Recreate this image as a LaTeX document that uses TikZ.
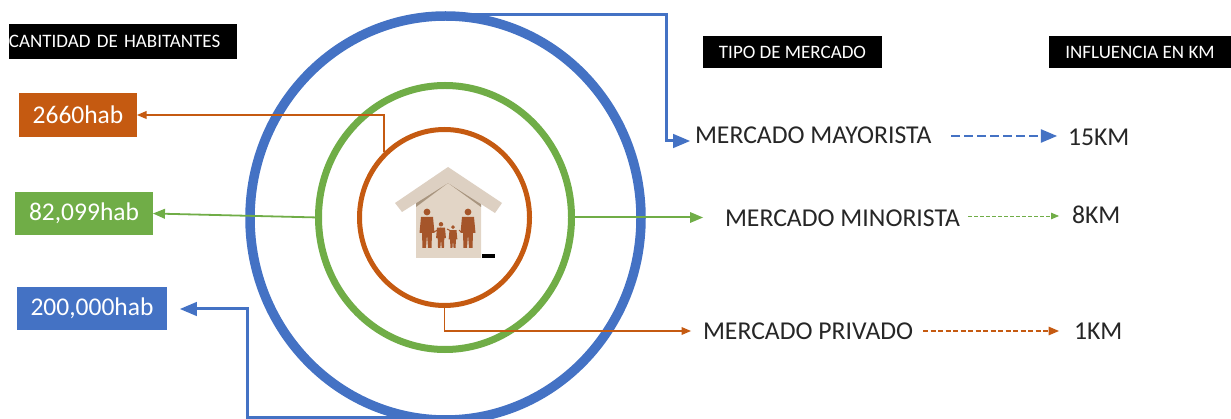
\documentclass[tikz,border=0pt]{standalone}
\usepackage{fontspec}
\setmainfont{Carlito}
\usetikzlibrary{arrows,shapes.geometric}
\definecolor{azul}{HTML}{4472C4}
\definecolor{verde}{HTML}{70AD47}
\definecolor{naranja}{HTML}{C55A11}
\definecolor{madera}{HTML}{E2D5C6}
\definecolor{techo}{HTML}{DDD0C2}
\definecolor{sombra}{HTML}{A8957F}
\definecolor{figura}{HTML}{A5552A}

\begin{document}
\begin{tikzpicture}[
x=1pt, y=-1pt,
    R/.style = {ellipse, draw=#1, outer sep=0pt, inner sep=0pt},% rings
    H/.style = {rectangle, fill=black, text=white, font=\fontsize{19}{19}\selectfont,
                inner sep=0pt, outer sep=0pt},% black headers
    B/.style = {rectangle, fill=#1, text=white, font=\fontsize{25.5}{25.5}\selectfont,
                inner sep=0pt, outer sep=0pt},% coloured boxes
    T/.style = {font=\fontsize{25.7}{25.7}\selectfont, text=black!85,
                inner sep=0pt, outer sep=0pt},% market and distance labels
    L/.style = {draw=#1, -triangle 45},% connectors
    D/.style = {draw=#1, -triangle 45},% dashed connectors
                        ]
\useasboundingbox (0,0) rectangle (1231,419);
% rings
\node[R=azul, line width=9.5pt, minimum width=391pt, minimum height=404pt] (ringB) at (445.5,218) {};
\node[R=verde, line width=7pt, minimum width=253pt, minimum height=264pt] (ringG) at (445,217.5) {};
\node[R=naranja, line width=5pt, minimum width=170pt, minimum height=176pt] (ringO) at (444.5,217.5) {};
% house
\fill[madera] (416,198) -- (448,176) -- (481,198) -- (481,258) -- (416,258) -- cycle;
\fill[sombra] (416,207) -- (448,183) -- (481,207) -- (481,200) -- (448,176) -- (416,200) -- cycle;
\fill[techo] (448,167) -- (502,203) -- (495,213) -- (448,183) -- (402,212) -- (395,203) -- cycle;
\fill[black] (482,254) rectangle (495,258);
\foreach \x/\y/\s in {427/248/1,468/248/1,441/248/.66,453/248/.58}% <-- figures
    {
    \fill[figura, shift={(\x,\y)}, scale=\s] (0,-36) circle (3.4)
        (-6,-31) -- (6,-31) -- (7.5,-15) -- (5,-15) -- (4.5,0) -- (1,0) -- (0,-14)
        -- (-1,0) -- (-4.5,0) -- (-5,-15) -- (-7.5,-15) -- cycle;
    }
\draw[figura, line width=1pt] (434,232) -- (441,228) (447,229) -- (453,232) (459,230) -- (461,232);
% headers
\node[H, minimum width=228pt, minimum height=35pt, text width=228pt, align=left] (cantidad) at (123,41.5) {CANTIDAD DE HABITANTES};
\node[H, minimum width=179pt, minimum height=32pt] (tipo) at (792.5,52) {TIPO DE MERCADO};
\node[H, minimum width=182pt, minimum height=32pt] (influencia) at (1140,52) {INFLUENCIA EN KM};
% inhabitants
\node[B=naranja, minimum width=118pt, minimum height=44pt] (hab1) at (78,115) {2660hab};
\node[B=verde, minimum width=138pt, minimum height=43pt] (hab2) at (84,213.5) {82,099hab};
\node[B=azul, minimum width=150pt, minimum height=43pt] (hab3) at (92,308.5) {200,000hab};
% markets
\node[T, anchor=west] (mayor) at (695,135) {MERCADO MAYORISTA};
\node[T, anchor=west] (minor) at (725,218) {MERCADO MINORISTA};
\node[T, anchor=west] (priv) at (703,331.5) {MERCADO PRIVADO};
% distances
\node[T, anchor=west] (km15) at (1068,137) {15KM};
\node[T, anchor=west] (km8) at (1072,214.5) {8KM};
\node[T, anchor=west] (km1) at (1074,331.5) {1KM};
% free ends
\coordinate (esqA) at (666,15);
\coordinate (esqB) at (247,417);
\coordinate (puntaB) at (180,309);
\coordinate (esqC) at (384,115);
\coordinate (pieC) at (384,152);
\coordinate (puntaG) at (703,217.5);
\coordinate (puntaM) at (690,141);
\coordinate (puntaP) at (691,331);
% connectors
\draw[L=azul, line width=3pt] (ringB.north |- esqA) -- (esqA) |- (puntaM);
\draw[L=azul, line width=3pt] (ringB.south |- esqB) -- (esqB) |- (puntaB);
\draw[L=naranja, line width=1.2pt] (pieC) -- (esqC) -- (hab1.east);
\draw[L=naranja, line width=1.2pt] (ringO.south) |- (puntaP);
\draw[L=verde, line width=1.8pt] (ringG.west |- puntaG) -- (hab2.east);
\draw[L=verde, line width=2pt] (ringG.east |- puntaG) -- (puntaG);
\draw[D=azul, line width=2.8pt, dash pattern=on 9pt off 4pt] (951,136) coordinate (a1) -- (1057,136) coordinate (a2);
\draw[D=verde, line width=.8pt, dash pattern=on 4pt off 2pt] (968,216) coordinate (b1) -- (1059,216) coordinate (b2);
\draw[D=naranja, line width=1.4pt, dash pattern=on 5pt off 2.5pt] (923,331) coordinate (c1) -- (1059,331) coordinate (c2);
\end{tikzpicture}
\end{document}
